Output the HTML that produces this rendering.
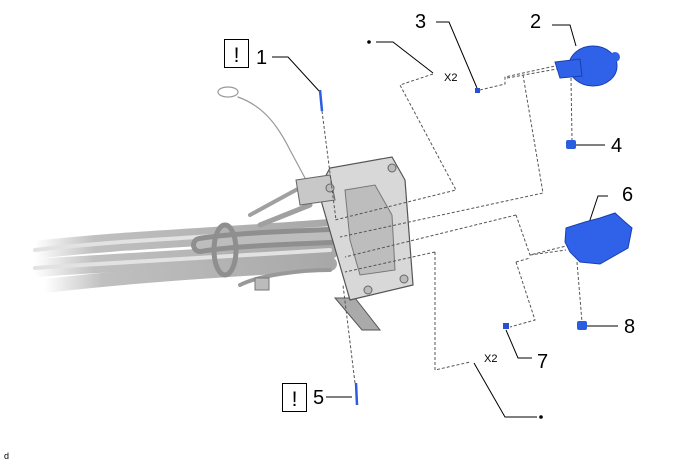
<!DOCTYPE html>
<html><head><meta charset="utf-8"><style>
html,body{margin:0;padding:0;background:#fff;}
svg{display:block;}
text{font-family:"Liberation Sans",Arial,sans-serif;}
</style></head><body>
<svg width="688" height="463" viewBox="0 0 688 463" xmlns="http://www.w3.org/2000/svg">
<defs>
<linearGradient id="fade" x1="0" x2="1" y1="0" y2="0">
<stop offset="0" stop-color="#fff"/><stop offset="0.2" stop-color="#c0c0c0"/><stop offset="1" stop-color="#a8a8a8"/>
</linearGradient>
</defs>
<g stroke-linecap="round" fill="none">
<path d="M35,250 C120,240 200,238 330,228" stroke="url(#fade)" stroke-width="18"/>
<path d="M35,268 C120,262 200,258 330,250" stroke="url(#fade)" stroke-width="18"/>
<path d="M45,286 C130,276 220,270 330,264" stroke="url(#fade)" stroke-width="14"/>
<path d="M35,250 C120,240 200,238 330,228" stroke="#e2e2e2" stroke-width="4"/>
<path d="M35,268 C120,262 200,258 330,250" stroke="#e2e2e2" stroke-width="4"/>
<path d="M200,245 C230,240 280,238 330,236" stroke="#8f8f8f" stroke-width="18"/>
<path d="M200,245 C230,240 280,238 330,236" stroke="#bdbdbd" stroke-width="8"/>
<path d="M250,215 L305,185" stroke="#a0a0a0" stroke-width="4"/>
<path d="M260,225 L310,205" stroke="#a0a0a0" stroke-width="5"/>
<path d="M240,285 C260,275 300,270 330,270" stroke="#999" stroke-width="4"/>
<ellipse cx="225" cy="250" rx="11" ry="25" stroke="#8f8f8f" stroke-width="5"/>
<ellipse cx="228" cy="92" rx="10" ry="5" stroke="#999" stroke-width="1.2"/>
<path d="M238,97 C260,105 275,120 290,150 L305,178" stroke="#999" stroke-width="1.2"/>
</g>
<rect x="255" y="278" width="14" height="12" fill="#bbb" stroke="#777"/>
<path d="M335,298 L355,298 L380,330 L362,330 Z" fill="#aaa" stroke="#555"/>
<path d="M318,190 L330,168 L392,157 L405,180 L413,285 L350,300 Z" fill="#d8d8d8" stroke="#555" stroke-width="1.2"/>
<path d="M296,180 L330,175 L335,200 L300,205 Z" fill="#c8c8c8" stroke="#666"/>
<path d="M345,190 L375,185 L392,215 L395,270 L360,275 L350,240 Z" fill="#bdbdbd" stroke="#777"/>
<circle cx="330" cy="188" r="4" fill="#bbb" stroke="#666"/>
<circle cx="392" cy="168" r="4" fill="#bbb" stroke="#666"/>
<circle cx="404" cy="279" r="4" fill="#bbb" stroke="#666"/>
<circle cx="368" cy="290" r="4" fill="#bbb" stroke="#666"/>
<g fill="none" stroke="#555" stroke-width="1" stroke-dasharray="3,2">
<path d="M322,111 L336,220"/>
<path d="M355,383 L343,285"/>
<path d="M433,74 L400,85 L456,190 L335,220"/>
<path d="M480,90 L505,84 L505,77 L555,66"/>
<path d="M507,78 L557,69"/>
<path d="M523,75 L543,193 L340,237"/>
<path d="M571,78 L572,140"/>
<path d="M516,215 L345,257"/>
<path d="M516,215 L530,255 L566,246"/>
<path d="M530,255 L566,250"/>
<path d="M516,262 L535,320 L510,327"/>
<path d="M516,262 L530,258"/>
<path d="M435,252 L345,272"/>
<path d="M435,252 L435,370 L470,362"/>
<path d="M577,262 L582,322"/>
</g>
<g fill="none" stroke="#000" stroke-width="1">
<path d="M272,57 L288,57 L320,92"/>
<path d="M436,22 L449,22 L477,88"/>
<path d="M552,25 L570,25 L576,46"/>
<path d="M376,42 L393,42 L433,73"/>
<path d="M576,145 L605,145"/>
<path d="M608,196 L598,196 L586,232"/>
<path d="M587,326 L618,326"/>
<path d="M506,330 L518,358 L532,358"/>
<path d="M474,363 L505,417 L537,417"/>
<path d="M326,397 L352,397"/>
</g>
<line x1="320" y1="90" x2="322" y2="111" stroke="#2a5de0" stroke-width="2.5"/>
<line x1="356" y1="383" x2="357" y2="405" stroke="#2a5de0" stroke-width="2.5"/>
<rect x="475" y="88" width="5" height="5" fill="#2a4fd0"/>
<rect x="503" y="323" width="6" height="6" fill="#2a4fd0"/>
<rect x="566" y="140" width="10" height="9" rx="2" fill="#2a5de0"/>
<rect x="577" y="321" width="10" height="9" rx="2" fill="#2a5de0"/>
<ellipse cx="593" cy="66" rx="24" ry="20" fill="#2f62e8" stroke="#1a3fb0"/>
<ellipse cx="615" cy="57" rx="5" ry="5" fill="#2f62e8"/>
<path d="M555,62 L580,59 L582,76 L560,78 Z" fill="#2f62e8" stroke="#1a3fb0"/>
<path d="M566,228 L585,222 L600,218 L615,213 L625,222 L632,228 L628,248 L600,264 L580,262 L570,252 L565,242 Z" fill="#2f62e8" stroke="#1a3fb0"/>
<rect x="224.5" y="39.5" width="24" height="28" fill="#fff" stroke="#000"/>
<text x="236.5" y="62" font-size="21" text-anchor="middle">!</text>
<rect x="282.5" y="383.5" width="24" height="28" fill="#fff" stroke="#000"/>
<text x="294.5" y="406" font-size="21" text-anchor="middle">!</text>
<g font-size="20">
<text x="256" y="64">1</text>
<text x="415" y="28">3</text>
<text x="530" y="28">2</text>
<text x="611" y="152">4</text>
<text x="313" y="404">5</text>
<text x="622" y="201">6</text>
<text x="537" y="368">7</text>
<text x="624" y="333">8</text>
</g>
<text x="444" y="81" font-size="11">X2</text>
<text x="484" y="362" font-size="11">X2</text>
<circle cx="369" cy="42" r="1.8" fill="#000"/>
<circle cx="541" cy="417" r="1.8" fill="#000"/>
<text x="4" y="459" font-size="9">d</text>
</svg>
</body></html>
